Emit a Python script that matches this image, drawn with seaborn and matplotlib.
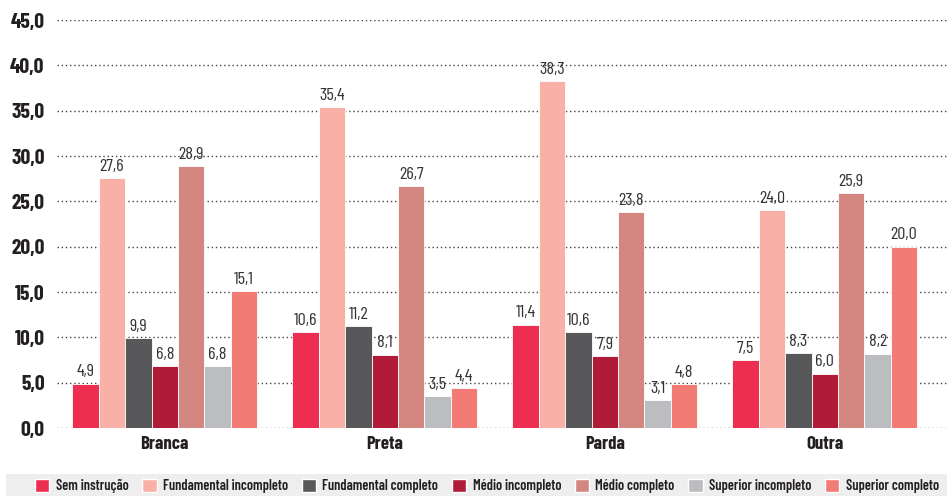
import pandas as pd
import matplotlib.pyplot as plt
import seaborn as sns
from matplotlib.patches import Rectangle

# Dados
grupos = ['Branca', 'Preta', 'Parda', 'Outra']
niveis = ['Sem instrução', 'Fundamental incompleto', 'Fundamental completo',
          'Médio incompleto', 'Médio completo', 'Superior incompleto', 'Superior completo']
branca = [4.9, 27.6, 9.9, 6.8, 28.9, 6.8, 15.1]
preta = [10.6, 35.4, 11.2, 8.1, 26.7, 3.5, 4.4]
parda = [11.4, 38.3, 10.6, 7.9, 23.8, 3.1, 4.8]
outra = [7.5, 24.0, 8.3, 6.0, 25.9, 8.2, 20.0]
yticks = [0, 5, 10, 15, 20, 25, 30, 35, 40, 45]

cores = ['#ee2e50', '#f9b0a6', '#58585a', '#b01c38', '#d48780', '#bcbdc0', '#f27b76']

linhas = []
for g, vals in zip(grupos, [branca, preta, parda, outra]):
    for n, v in zip(niveis, vals):
        linhas.append({'grupo': g, 'nivel': n, 'valor': v})
df = pd.DataFrame(linhas)

sns.set_style('white')
plt.rcParams['font.family'] = ['Barlow Condensed', 'DejaVu Sans']

fig = plt.figure(figsize=(9.47, 4.96), dpi=100)
ax = fig.add_axes([57 / 947, 68 / 496, 890 / 947, 408 / 496])

sns.barplot(data=df, x='grupo', y='valor', hue='nivel', hue_order=niveis,
            palette=cores, saturation=1, width=0.84, gap=0, ax=ax, legend=False,
            edgecolor='white', linewidth=0.6, zorder=3)

for cont in ax.containers:
    ax.bar_label(cont, labels=[f'{b.get_height():.1f}'.replace('.', ',') for b in cont],
                 padding=3, fontsize=13, color='#333333', zorder=4)

ax.set_ylim(0, 45)
ax.set_xlim(-0.49, 3.555)
ax.set_yticks(yticks)
ax.set_yticklabels([f'{t:.1f}'.replace('.', ',') for t in yticks],
                   fontsize=15.5, fontweight='bold', color='#231f20')
ax.tick_params(axis='y', length=0, pad=9)
ax.tick_params(axis='x', length=0, pad=6)
for lbl in ax.get_xticklabels():
    lbl.set_fontsize(13.5)
    lbl.set_fontweight('bold')
    lbl.set_color('#231f20')
ax.set_xlabel('')
ax.set_ylabel('')
ax.yaxis.grid(True, linestyle=(0, (1, 2)), color='#444444', linewidth=1, zorder=0)
ax.set_axisbelow(True)
for s in ax.spines.values():
    s.set_visible(False)

# Faixa da legenda
fig.patches.append(Rectangle((6 / 947, 0), 941 / 947, 22 / 496, transform=fig.transFigure,
                             facecolor='#eeeeee', edgecolor='none', zorder=0))
handles = [Rectangle((0, 0), 1, 1, facecolor=c) for c in cores]
fig.legend(handles, niveis, loc='center', bbox_to_anchor=(487 / 947, 10 / 496), ncol=7,
           frameon=False, handlelength=1.0, handleheight=1.0, handletextpad=0.45,
           columnspacing=0.95, prop={'size': 10.3, 'weight': 600}, labelcolor='#231f20')

fig.savefig('out.png', dpi=100)
